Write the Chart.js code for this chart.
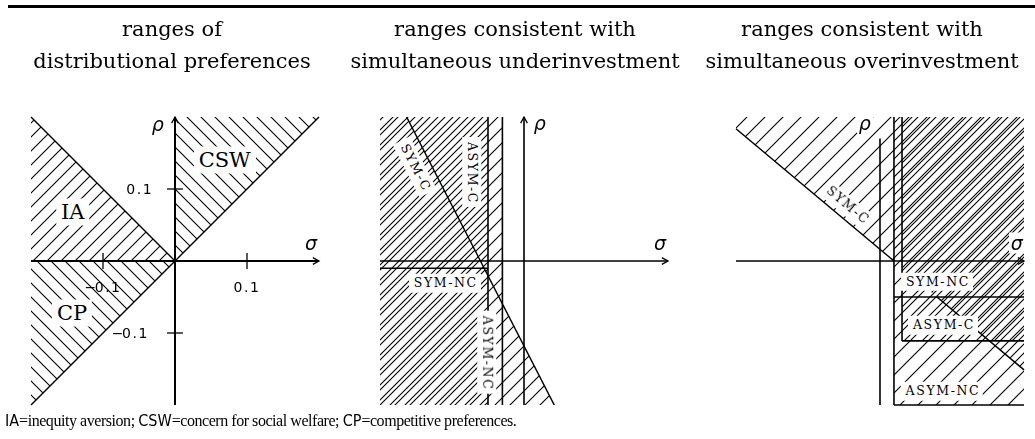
<!DOCTYPE html>
<html><head><meta charset="utf-8">
<script src="https://cdn.jsdelivr.net/npm/chart.js@4.4.1/dist/chart.umd.min.js"></script>
<style>
html,body{margin:0;padding:0;background:#fff;}
#wrap{position:relative;width:1035px;height:439px;overflow:hidden;background:#fff;}
#c{position:absolute;left:0;top:0;}
.rule{position:absolute;left:8px;top:5px;width:1027px;height:3px;background:#000;}
.title{position:absolute;top:13px;font-family:'DejaVu Serif',serif;font-size:21px;line-height:32px;text-align:center;white-space:nowrap;color:#000;transform:translateX(-50%);}
.lab{position:absolute;white-space:nowrap;color:#000;line-height:1;}
.region{font-family:'DejaVu Serif',serif;font-size:21px;background:#fff;padding:3px 5px;}
.sc{font-family:'DejaVu Serif',serif;font-size:12.5px;letter-spacing:1.6px;background:#fff;padding:3px 3px 3px 5px;}
.greek{font-family:'DejaVu Sans',sans-serif;font-style:italic;font-size:19px;}
.gbg{background:#fff;padding:1px 2px;}
.tick{font-family:'DejaVu Sans',sans-serif;font-size:14px;letter-spacing:1.5px;}
.tick .m{margin-right:-3px;}
#foot{position:absolute;left:5px;top:411px;font-family:'Liberation Serif',serif;font-size:16px;letter-spacing:-0.45px;line-height:20px;white-space:nowrap;color:#000;}
#foot b{font-family:'Liberation Sans Narrow','DejaVu Sans Condensed','Liberation Sans',sans-serif;font-weight:normal;letter-spacing:0;}
</style></head>
<body><div id="wrap"><canvas id="c" width="1035" height="439"></canvas>
<div class="rule"></div>
<div class="title" style="left:172px">ranges of<br>distributional preferences</div>
<div class="title" style="left:515px">ranges consistent with<br>simultaneous underinvestment</div>
<div class="title" style="left:862px">ranges consistent with<br>simultaneous overinvestment</div>
<div id="labels"></div>
<div id="foot"><b>IA</b>=inequity aversion; <b>CSW</b>=concern for social welfare; <b>CP</b>=competitive preferences.</div>
</div>
<script>
// ================= DATA =================
const axisLimits = [-0.2, 0.2];          // sigma and rho range shown in every panel
const tickValues = [-0.1, 0.1];
const tickLabels = ['\u22120.1', '0.1'];

// Panel 1: ranges of distributional preferences
const p1RegionNames = ['IA', 'CSW', 'CP'];
const p1IA  = [[-0.2, 0], [0, 0], [-0.2, 0.2]];
const p1CSW = [[0, 0], [0.2, 0.2], [0, 0.2]];
const p1CP  = [[-0.2, 0], [0, 0], [-0.2, -0.2]];
const p1Diagonal     = [[-0.2, -0.2], [0.2, 0.2]];
const p1AntiDiagonal = [[-0.2, 0.2], [0, 0]];
const p1RegionLabelAt = [[-0.142, 0.068], [0.069, 0.140], [-0.143, -0.072]];

// Panel 2: simultaneous underinvestment
const p2Names = ['SYM-C', 'ASYM-C', 'SYM-NC', 'ASYM-NC'];
const p2SymCLine   = [[-0.163, 0.2], [0.042, -0.2]];
const p2AsymCLine  = [[-0.05, -0.2], [-0.05, 0.2]];
const p2AsymNCLine = [[-0.03, -0.2], [-0.03, 0.2]];
const p2SymNCLine  = [[-0.2, -0.01], [-0.05, -0.01]];
const p2SparseArea = [[-0.2, 0.2], [-0.03, 0.2], [-0.03, -0.0595], [0.042, -0.2], [-0.2, -0.2]];
const p2MidArea    = [[-0.163, 0.2], [-0.05, 0.2], [-0.05, -0.0205]];
const p2DenseArea  = [[-0.2, 0.2], [-0.163, 0.2], [-0.05, -0.0205], [-0.05, -0.2], [-0.2, -0.2]];
const p2LabelAt  = [[-0.151, 0.131], [-0.072, 0.124], [-0.11, -0.031], [-0.051, -0.126]];
const p2LabelRot = [63, 90, 0, 90];

// Panel 3: simultaneous overinvestment
const p3Names = ['SYM-C', 'SYM-NC', 'ASYM-C', 'ASYM-NC'];
const p3SymCLineUpper = [[-0.2, 0.1837], [0.0194, 0]];
const p3SymCLineLower = [[0.0791, -0.05], [0.2, -0.1512]];
const p3RhoAxis   = [[0, -0.2], [0, 0.17]];
const p3NCLine    = [[0.0194, -0.2], [0.0194, 0.2]];
const p3CLine     = [[0.0306, -0.111], [0.0306, 0.2]];
const p3SymNCEdge = [[0.0194, -0.05], [0.2, -0.05]];
const p3AsymCEdge = [[0.0306, -0.111], [0.2, -0.111]];
const p3BottomEdge = [[0.0194, -0.2], [0.2, -0.2]];
const p3SymCArea  = [[-0.2, 0.1837], [0.2, -0.1512], [0.2, 0.2], [-0.2, 0.2]];
const p3RightArea = [[0.0194, -0.2], [0.2, -0.2], [0.2, 0.2], [0.0194, 0.2]];
const p3AsymCArea = [[0.0306, -0.111], [0.2, -0.111], [0.2, 0.2], [0.0306, 0.2]];
const p3LabelAt  = [[-0.046, 0.078], [0.079, -0.029], [0.0875, -0.089], [0.086, -0.181]];
const p3LabelRot = [40, 0, 0, 0];

// ================= LAYOUT =================
const W = 1035, H = 439, UNIT = 720;
const origins = [[175, 261], [524, 261], [880, 261]];

// dir 'ne' = lines rising to the right, 'nw' = lines falling to the right
function hatch(s, phase, dir, lw) {
  const c = document.createElement('canvas'); c.width = s; c.height = s;
  const g = c.getContext('2d'); g.strokeStyle = '#000'; g.lineWidth = lw || 1.1;
  g.beginPath();
  if (dir === 'ne') {
    g.moveTo(0, s); g.lineTo(s, 0);
    g.moveTo(-2, 2); g.lineTo(2, -2);
    g.moveTo(s - 2, s + 2); g.lineTo(s + 2, s - 2);
  } else {
    g.moveTo(0, 0); g.lineTo(s, s);
    g.moveTo(s - 2, -2); g.lineTo(s + 2, 2);
    g.moveTo(-2, s - 2); g.lineTo(2, s + 2);
  }
  g.stroke();
  const p = g.createPattern(c, 'repeat');
  if (phase) p.setTransform(new DOMMatrix().translate(phase, 0));
  return p;
}
const pts = a => a.map(([x, y]) => ({x, y}));
function area(a, panel, pattern) {
  const d = pts(a); d.push(d[0]);
  return {data: d, xAxisID: 'x' + panel, yAxisID: 'y' + panel, showLine: true, fill: 'shape',
    backgroundColor: pattern, borderColor: 'rgba(0,0,0,0)', borderWidth: 0, pointRadius: 0, tension: 0};
}
function line(a, panel, w, arrow) {
  return {data: pts(a), xAxisID: 'x' + panel, yAxisID: 'y' + panel, showLine: true, fill: false,
    borderColor: '#000', borderWidth: w, pointRadius: 0, tension: 0, arrow: !!arrow,
    borderCapStyle: 'butt'};
}
const xAxisPts = [[axisLimits[0], 0], [axisLimits[1], 0]];
const yAxisPts = [[0, axisLimits[0]], [0, axisLimits[1]]];
const tk = 0.011;

const datasets = [
  // panel 1 areas
  area(p1IA, 1, hatch(14, 0, 'ne')),
  area(p1CSW, 1, hatch(14, 0, 'nw')),
  area(p1CP, 1, hatch(14, 0, 'nw')),
  // panel 2 areas
  area(p2SparseArea, 2, hatch(15, 0, 'ne')),
  area(p2MidArea, 2, hatch(15, 7, 'ne')),
  area(p2DenseArea, 2, hatch(15, 5, 'ne')),
  // panel 3 areas
  area(p3SymCArea, 3, hatch(18, 0, 'ne')),
  area(p3RightArea, 3, hatch(18, 9, 'ne')),
  area(p3AsymCArea, 3, hatch(18, 3, 'ne')),
  // panel 1 lines
  line(xAxisPts, 1, 2, true), line(yAxisPts, 1, 2, true),
  line(p1Diagonal, 1, 1.5), line(p1AntiDiagonal, 1, 1.5),
  ...tickValues.map(t => line([[t, -tk], [t, tk]], 1, 1.3)),
  ...tickValues.map(t => line([[-tk, t], [tk, t]], 1, 1.3)),
  // panel 2 lines
  line(xAxisPts, 2, 1.6, true), line(yAxisPts, 2, 1.6, true),
  line(p2SymCLine, 2, 1.5), line(p2AsymCLine, 2, 1.6), line(p2AsymNCLine, 2, 1.6), line(p2SymNCLine, 2, 1.6),
  // panel 3 lines
  line(xAxisPts, 3, 1.6, true), line(p3RhoAxis, 3, 1.6),
  line(p3SymCLineUpper, 3, 1.5), line(p3SymCLineLower, 3, 1.5),
  line(p3NCLine, 3, 1.6), line(p3CLine, 3, 1.6),
  line(p3SymNCEdge, 3, 1.6), line(p3AsymCEdge, 3, 1.6), line(p3BottomEdge, 3, 1.6),
];

const scales = {};
origins.forEach(([ox, oy], i) => {
  scales['x' + (i + 1)] = {type: 'linear', display: false, min: -ox / UNIT, max: (W - ox) / UNIT};
  scales['y' + (i + 1)] = {type: 'linear', display: false, min: -(H - oy) / UNIT, max: oy / UNIT};
});

// ================= LABELS =================
const labels = [];
p1RegionNames.forEach((t, i) => labels.push({p: 1, text: t, at: p1RegionLabelAt[i], cls: 'region'}));
labels.push({p: 1, text: '\u03c1', at: [-0.024, 0.19], cls: 'greek'});
labels.push({p: 1, text: '\u03c3', at: [0.189, 0.025], cls: 'greek'});
tickValues.forEach((t, i) => labels.push({p: 1, text: tickLabels[i], at: [t, -0.036], cls: 'tick'}));
tickValues.forEach((t, i) => labels.push({p: 1, text: tickLabels[i], at: [t < 0 ? -0.062 : -0.049, t], cls: 'tick'}));
p2Names.forEach((t, i) => labels.push({p: 2, text: t, at: p2LabelAt[i], rot: p2LabelRot[i], cls: 'sc'}));
labels.push({p: 2, text: '\u03c1', at: [0.022, 0.192], cls: 'greek'});
labels.push({p: 2, text: '\u03c3', at: [0.189, 0.025], cls: 'greek'});
p3Names.forEach((t, i) => labels.push({p: 3, text: t, at: p3LabelAt[i], rot: p3LabelRot[i], cls: 'sc'}));
labels.push({p: 3, text: '\u03c1', at: [-0.021, 0.192], cls: 'greek gbg'});
labels.push({p: 3, text: '\u03c3', at: [0.19, 0.025], cls: 'greek gbg'});

const arrowPlugin = {
  id: 'arrows',
  afterDatasetsDraw(chart) {
    const ctx = chart.ctx;
    chart.data.datasets.forEach((ds, i) => {
      if (!ds.arrow) return;
      const el = chart.getDatasetMeta(i).data;
      const a = el[el.length - 2], b = el[el.length - 1];
      const ang = Math.atan2(b.y - a.y, b.x - a.x), L = 7, w = 0.5;
      ctx.save(); ctx.strokeStyle = '#000'; ctx.lineWidth = 1.3;
      ctx.beginPath();
      ctx.moveTo(b.x - L * Math.cos(ang - w), b.y - L * Math.sin(ang - w));
      ctx.lineTo(b.x, b.y);
      ctx.lineTo(b.x - L * Math.cos(ang + w), b.y - L * Math.sin(ang + w));
      ctx.stroke(); ctx.restore();
    });
  }
};
const labelPlugin = {
  id: 'htmlLabels',
  afterDraw(chart) {
    const host = document.getElementById('labels');
    host.innerHTML = '';
    labels.forEach(l => {
      const px = chart.scales['x' + l.p].getPixelForValue(l.at[0]);
      const py = chart.scales['y' + l.p].getPixelForValue(l.at[1]);
      const d = document.createElement('div');
      d.className = 'lab ' + l.cls;
      if (l.text.charAt(0) === '\u2212') {
        const m = document.createElement('span'); m.className = 'm'; m.textContent = '\u2212';
        d.appendChild(m); d.appendChild(document.createTextNode(l.text.slice(1)));
      } else d.textContent = l.text;
      d.style.left = px + 'px'; d.style.top = py + 'px';
      d.style.transform = `translate(-50%,-50%) rotate(${l.rot || 0}deg)`;
      host.appendChild(d);
    });
  }
};

new Chart(document.getElementById('c'), {
  type: 'scatter',
  data: {datasets},
  options: {
    responsive: false, animation: false, events: [],
    layout: {padding: 0},
    scales,
    plugins: {legend: {display: false}, tooltip: {enabled: false}, filler: {drawTime: 'beforeDatasetsDraw'}}
  },
  plugins: [arrowPlugin, labelPlugin]
});
</script>
</body></html>
